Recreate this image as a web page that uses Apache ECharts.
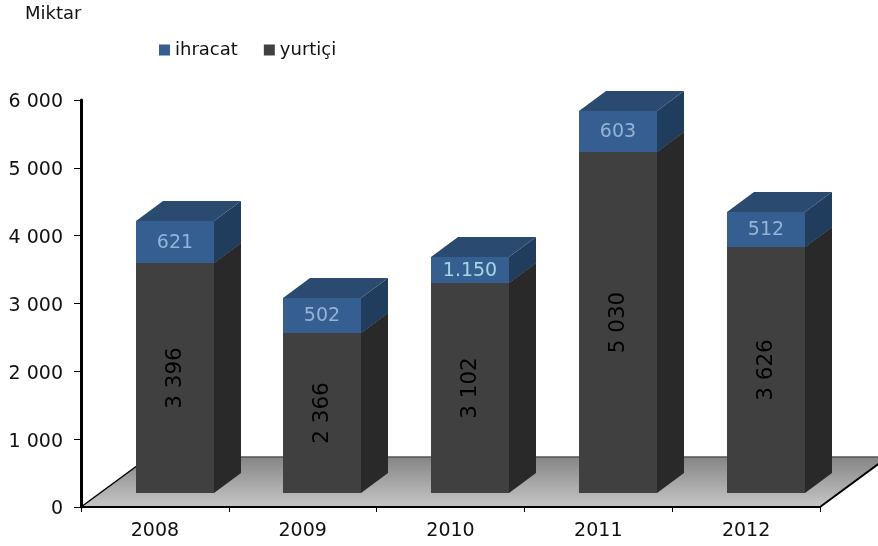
<!DOCTYPE html>
<html>
<head>
<meta charset="utf-8">
<style>html,body{margin:0;padding:0;background:#fff}#c{width:878px;height:546px}</style>
<script src="https://cdn.jsdelivr.net/npm/echarts@6/dist/echarts.min.js"></script>
</head>
<body>
<div id="c"></div>
<script>
var categories = ['2008', '2009', '2010', '2011', '2012'];
var yurticiValues = [3396, 2366, 3102, 5030, 3626];
var ihracatValues = [621, 502, 370, 603, 512];
var yurticiLabels = ['3 396', '2 366', '3 102', '5 030', '3 626'];
var ihracatLabels = ['621', '502', '1.150', '603', '512'];
var yTicks = { min: 0, max: 6000, interval: 1000 };

var FONT = '"DejaVu Sans", Verdana, sans-serif';
var OFF_X = 19.7, OFF_Y = -14;     // bar footprint inside the floor
var DEPTH_X = 27, DEPTH_Y = -20;   // bar depth projection
var FLOOR_X = 68, FLOOR_Y = -50;   // floor depth projection
var BAR_W = 78;

function boxRender(colors, texts, rotate, font, textDy) {
  return function (params, api) {
    var i = api.value(0), lo = api.value(1), hi = api.value(2);
    var b = api.coord([i, lo]), t = api.coord([i, hi]);
    var xl = Math.round(b[0] + OFF_X - BAR_W / 2), xr = xl + BAR_W;
    var yb = Math.round(b[1] + OFF_Y), yt = Math.round(t[1] + OFF_Y);
    var kids = [
      { type: 'polygon', shape: { points: [[xr, yb], [xr + DEPTH_X, yb + DEPTH_Y], [xr + DEPTH_X, yt + DEPTH_Y], [xr, yt]] },
        style: { fill: colors.side } },
      { type: 'polygon', shape: { points: [[xl, yt], [xl + DEPTH_X, yt + DEPTH_Y], [xr + DEPTH_X, yt + DEPTH_Y], [xr, yt]] },
        style: { fill: colors.top } },
      { type: 'rect', shape: { x: xl, y: yt, width: BAR_W, height: yb - yt }, style: { fill: colors.front } },
      { type: 'text', x: (xl + xr) / 2, y: (yt + yb) / 2 + textDy, rotation: rotate,
        style: { text: texts[i], fill: i === 2 && colors.alt ? colors.alt : colors.text, font: font, align: 'center', verticalAlign: 'middle' } }
    ];
    return { type: 'group', children: kids };
  };
}

function floorRender(params, api) {
  var g = params.coordSys;
  var x0 = g.x, x1 = g.x + g.width, y0 = g.y + g.height;
  return {
    type: 'group',
    children: [
      { type: 'polygon',
        shape: { points: [[x0, y0], [x0 + FLOOR_X, y0 + FLOOR_Y], [x1 + FLOOR_X, y0 + FLOOR_Y], [x1, y0]] },
        style: { fill: new echarts.graphic.LinearGradient(0, 0, 0, 1, [
          { offset: 0, color: '#858585' }, { offset: 1, color: '#c6c6c6' }]) } },
      { type: 'line', shape: { x1: x0 + FLOOR_X, y1: y0 + FLOOR_Y, x2: x1 + FLOOR_X, y2: y0 + FLOOR_Y },
        style: { stroke: '#555555', lineWidth: 1.5 } },
      { type: 'line', shape: { x1: x0, y1: y0, x2: x0 + FLOOR_X, y2: y0 + FLOOR_Y },
        style: { stroke: '#000000', lineWidth: 1.5 } },
      { type: 'line', shape: { x1: x1, y1: y0, x2: x1 + FLOOR_X, y2: y0 + FLOOR_Y },
        style: { stroke: '#000000', lineWidth: 2 } }
    ]
  };
}

var yurticiData = categories.map(function (c, i) { return [i, 0, yurticiValues[i]]; });
var ihracatData = categories.map(function (c, i) { return [i, yurticiValues[i], yurticiValues[i] + ihracatValues[i]]; });

var chart = echarts.init(document.getElementById('c'), null, { renderer: 'canvas' });
chart.setOption({
  animation: false,
  backgroundColor: '#ffffff',
  title: { text: 'Miktar', left: 20, top: 0, textStyle: { fontFamily: FONT, fontSize: 18, fontWeight: 'normal', color: '#111111' } },
  legend: {
    left: 154, top: 36, itemWidth: 11, itemHeight: 11, itemGap: 26,
    icon: 'rect', selectedMode: false,
    data: ['ihracat', 'yurtiçi'],
    textStyle: { fontFamily: FONT, fontSize: 18, color: '#111111' }
  },
  grid: { left: 81, top: 100, width: 739, height: 407, containLabel: false },
  xAxis: {
    type: 'category', data: categories, z: 4,
    axisLine: { show: true, lineStyle: { color: '#000', width: 2 } },
    axisTick: { show: true, length: 5, alignWithLabel: false, lineStyle: { color: '#000', width: 1 } },
    axisLabel: { fontFamily: FONT, fontSize: 19, color: '#111111', margin: 15 },
    splitLine: { show: false }
  },
  yAxis: {
    type: 'value', min: yTicks.min, max: yTicks.max, interval: yTicks.interval, z: 4,
    axisLine: { show: true, lineStyle: { color: '#000', width: 3 } },
    axisTick: { show: true, length: 7, lineStyle: { color: '#000', width: 1 } },
    axisLabel: {
      margin: 18,
      formatter: function (v) { return '{v|' + String(v).replace(/\B(?=(\d{3})+$)/g, ' ') + '}'; },
      rich: { v: { fontFamily: FONT, fontSize: 19, color: '#111111', padding: [5, 0, 0, 0] } }
    },
    splitLine: { show: false }
  },
  series: [
    { type: 'custom', name: 'floor', z: 1, silent: true, clip: false, coordinateSystem: 'cartesian2d',
      data: [[0, 0]], renderItem: floorRender, encode: { x: 0, y: 1 } },
    { type: 'custom', name: 'yurtiçi', z: 5, clip: false, coordinateSystem: 'cartesian2d',
      itemStyle: { color: '#404040' },
      data: yurticiData, encode: { x: 0, y: [1, 2] },
      renderItem: boxRender({ front: '#404040', side: '#292929', top: '#303030', text: '#000000' },
        yurticiLabels, Math.PI / 2, '21.5px ' + FONT, 0) },
    { type: 'custom', name: 'ihracat', z: 6, clip: false, coordinateSystem: 'cartesian2d',
      itemStyle: { color: '#365F91' },
      data: ihracatData, encode: { x: 0, y: [1, 2] },
      renderItem: boxRender({ front: '#365F91', side: '#203D5D', top: '#2A4A70', text: '#95B3D7', alt: '#A6D5E4' },
        ihracatLabels, 0, '19px ' + FONT, 1) }
  ]
});
</script>
</body>
</html>
